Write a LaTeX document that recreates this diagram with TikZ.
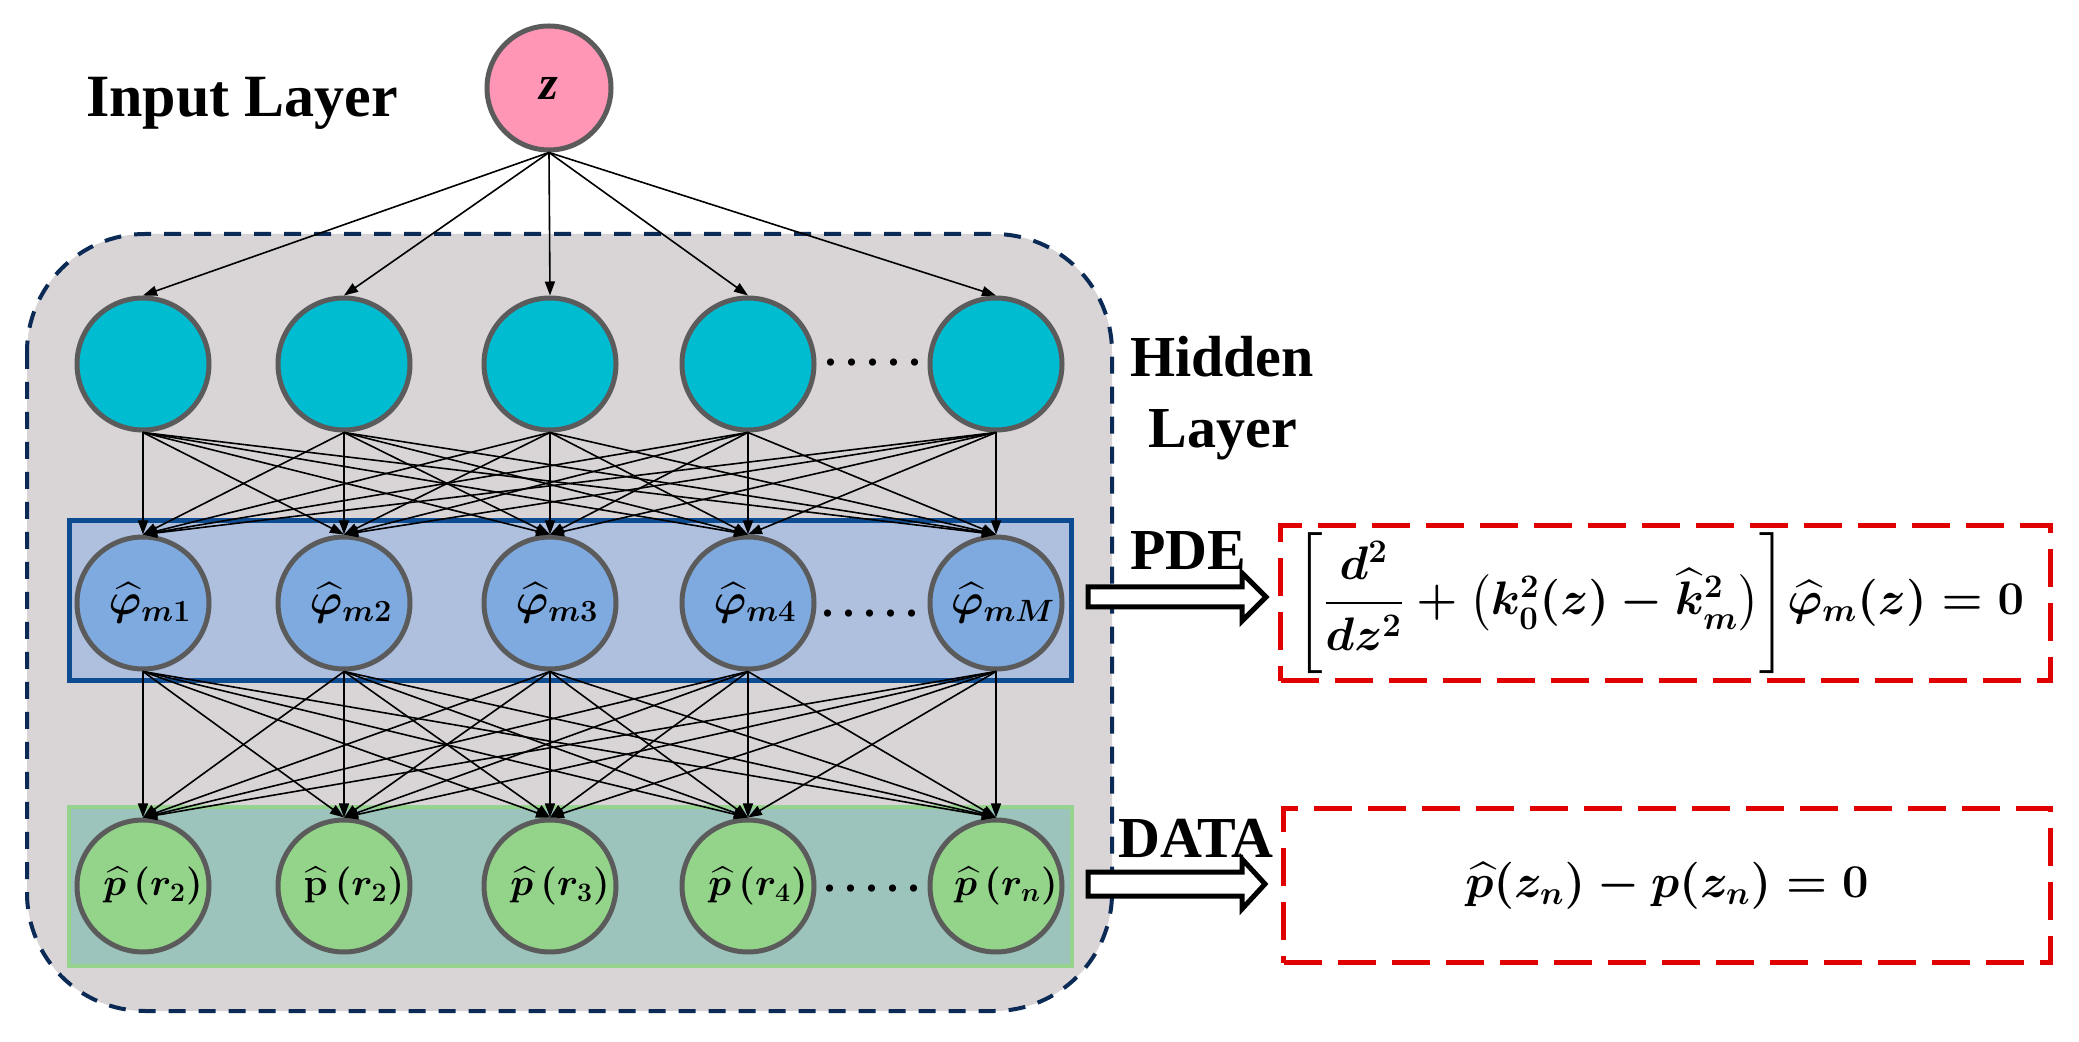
\RequirePackage{fix-cm}
\documentclass[tikz,border=0pt]{standalone}
\usepackage{amsmath,amssymb,bm}
\usepackage{fontspec}
\setmainfont{Liberation Serif}
\usetikzlibrary{arrows.meta}
\definecolor{grayfill}{HTML}{D9D5D7}
\definecolor{navyline}{HTML}{0B2A55}
\definecolor{cyanfill}{HTML}{00BCD1}
\definecolor{phifill}{HTML}{7FAADF}
\definecolor{bluefill}{HTML}{AFC0DF}
\definecolor{blueborder}{HTML}{0E4C92}
\definecolor{greenfill}{HTML}{94D38A}
\definecolor{greenrect}{HTML}{9DC4BC}
\definecolor{greenborder}{HTML}{96D38C}
\definecolor{pinkfill}{HTML}{FF96B6}
\definecolor{nodeborder}{HTML}{5B5B5B}
\definecolor{eqred}{HTML}{E00000}
\tikzset{
  neuron/.style={circle, draw=nodeborder, line width=2.5pt, minimum size=66pt, inner sep=0pt},
  innode/.style={neuron, fill=pinkfill, minimum size=62pt, font=\fontsize{24}{28}\selectfont\bfseries\itshape},
  hidnode/.style={neuron, fill=cyanfill},
  phinode/.style={neuron, fill=phifill, font=\fontsize{22}{26}\selectfont\boldmath},
  outnode/.style={neuron, fill=greenfill, font=\fontsize{19}{23}\selectfont\boldmath},
  conn/.style={-{Triangle[length=7pt,width=5pt]}, line width=0.8pt, black},
  lbl/.style={font=\fontsize{29}{34}\selectfont\bfseries, anchor=base, inner sep=0pt},
  dotlbl/.style={font=\fontsize{22}{26}\selectfont\bfseries, anchor=base, inner sep=0pt},
  eqbox/.style={draw=eqred, line width=2.3pt, dash pattern=on 19pt off 8pt, inner sep=0pt},
  eqtext/.style={font=\fontsize{23.5}{28}\selectfont\boldmath, inner sep=0pt},
  blockarrow/.style={draw=black, fill=white, line width=2.5pt, line join=miter}
}
\begin{document}
\begin{tikzpicture}[x=0.5pt,y=-0.5pt]
\useasboundingbox (0,0) rectangle (2079,1042);
\fill[white] (0,0) rectangle (2079,1042);
% hidden layer background
\draw[navyline, line width=2pt, dash pattern=on 8.5pt off 6.5pt, fill=grayfill, rounded corners=59pt] (27,234) rectangle (1112,1011);
% layer bands
\draw[line width=2.5pt, draw=blueborder, fill=bluefill] (69.5,520.5) rectangle (1071.5,680.5);
\draw[line width=2pt, draw=greenborder, fill=greenrect] (69,807) rectangle (1072,966);
% input node
\node[innode] (z) at (549,88) {z};
% hidden nodes
\node[hidnode] (h1) at (143,364) {};
\node[hidnode] (h2) at (344,364) {};
\node[hidnode] (h3) at (550,364) {};
\node[hidnode] (h4) at (748,364) {};
\node[hidnode] (h5) at (996,364) {};
% phi nodes
\node[phinode] (p1) at (143,603) {\hspace{7pt}$\widehat{\varphi}_{m1}$};
\node[phinode] (p2) at (344,603) {\hspace{7pt}$\widehat{\varphi}_{m2}$};
\node[phinode] (p3) at (550,603) {\hspace{7pt}$\widehat{\varphi}_{m3}$};
\node[phinode] (p4) at (748,603) {\hspace{7pt}$\widehat{\varphi}_{m4}$};
\node[phinode] (p5) at (996,603) {\hspace{7pt}$\widehat{\varphi}_{mM}$};
% output nodes
\node[outnode] (o1) at (143,886) {\hspace{10pt}$\widehat{p}\,(r_2)$};
\node[outnode] (o2) at (344,886) {\hspace{10pt}$\widehat{\mathbf{p}}\,(r_2)$};
\node[outnode] (o3) at (550,886) {\hspace{10pt}$\widehat{p}\,(r_3)$};
\node[outnode] (o4) at (748,886) {\hspace{10pt}$\widehat{p}\,(r_4)$};
\node[outnode] (o5) at (996,886) {\hspace{10pt}$\widehat{p}\,(r_n)$};
% connectors
\foreach \i in {1,...,5} \draw[conn] (z.south) -- (h\i.north);
\foreach \i in {1,...,5} {\foreach \j in {1,...,5} {\draw[conn] (h\i.south) -- (p\j.north);}}
\foreach \i in {1,...,5} {\foreach \j in {1,...,5} {\draw[conn] (p\i.south) -- (o\j.north);}}
% dots
\node[dotlbl] (d1) at (873,366) {.\hspace{5pt}.\hspace{5pt}.\hspace{5pt}.\hspace{5pt}.};
\node[dotlbl] (d2) at (870,617) {.\hspace{5pt}.\hspace{5pt}.\hspace{5pt}.\hspace{5pt}.};
\node[dotlbl] (d3) at (872,892) {.\hspace{5pt}.\hspace{5pt}.\hspace{5pt}.\hspace{5pt}.};
% labels
\node[lbl, font=\fontsize{30}{34}\selectfont\bfseries] (inlabel) at (242,117) {Input Layer};
\node[lbl] (hid1) at (1222,377) {Hidden};
\node[lbl] (hid2) at (1223,448) {Layer};
\node[lbl] (pdelabel) at (1188,570) {PDE};
\node[lbl] (datalabel) at (1196,857) {DATA};
% block arrows
\draw[blockarrow] (1088,587) -- (1242,587) -- (1242,573) -- (1266,597) -- (1242,621) -- (1242,607) -- (1088,607) -- cycle;
\draw[blockarrow] (1088,872) -- (1242,872) -- (1242,859) -- (1265,884) -- (1242,909) -- (1242,896) -- (1088,896) -- cycle;
% equation boxes
\node[eqbox, minimum width=385pt, minimum height=77.7pt] (pdebox) at (1665.5,603) {};
\node[eqtext] (pdeeq) at (1660,603) {$\left[\dfrac{d^2}{dz^2}+\big(k_0^2(z)-\widehat{k}_m^2\big)\right]\!\widehat{\varphi}_m(z)=0$};
\node[eqbox, minimum width=383.5pt, minimum height=77.2pt] (databox) at (1667,885.5) {};
\node[eqtext] (dataeq) at (databox.center) {$\widehat{p}(z_n)-p(z_n)=0$};
\end{tikzpicture}
\end{document}
